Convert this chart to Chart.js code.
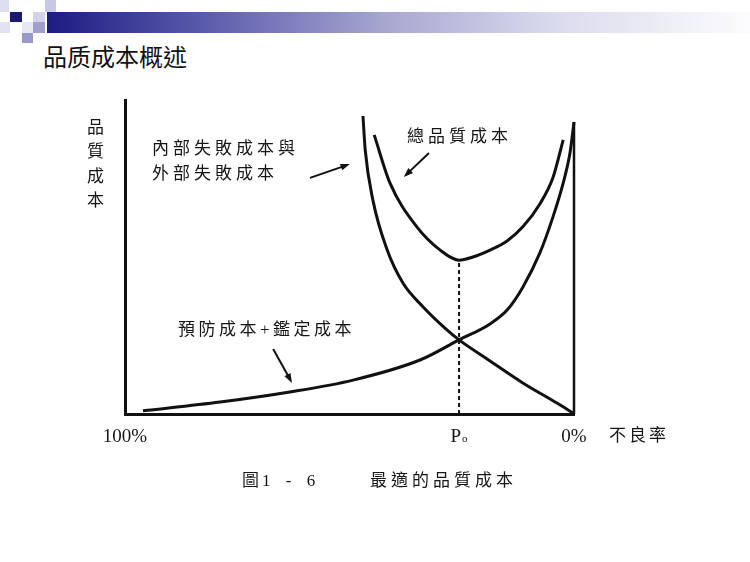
<!DOCTYPE html>
<html lang="zh-Hant">
<head>
<meta charset="UTF-8">
<title>品质成本概述</title>
<script src="https://cdn.jsdelivr.net/npm/chart.js"></script>
<style>
  html, body { margin: 0; padding: 0; background: #fff; }
  body {
    width: 750px; height: 562px; position: relative; overflow: hidden;
    font-family: 'Liberation Serif', 'Noto Sans CJK TC', serif;
    color: #161616;
  }
  #chart { position: absolute; left: 0; top: 0; }

  /* slide header decoration */
  .sq { position: absolute; }
  .bar {
    position: absolute; left: 47px; top: 12px; width: 703px; height: 21px;
    background: linear-gradient(90deg, #1c1c82 0%, #5a5aab 22%, #a6a6d1 48%, #dadaed 72%, #fcfcfe 100%);
  }
  .title {
    position: absolute; left: 43px; top: 41px;
    font-family: 'Noto Sans CJK SC', sans-serif; font-size: 24px; line-height: 30px;
    color: #111;
  }

  .lbl { position: absolute; font-size: 17px; line-height: 25px; letter-spacing: 4px; white-space: nowrap; }
  .ylbl { position: absolute; left: 87px; top: 116px; font-size: 17px; line-height: 24.3px; width: 20px; }
  .tick { position: absolute; top: 423px; font-size: 19px; line-height: 25px; transform: translateX(-50%); white-space: nowrap; }
  .tick sub { font-size: 11px; vertical-align: baseline; margin-left: 1px; }
</style>
</head>
<body>
  <div class="sq" style="left:0;top:0;width:9px;height:12px;background:#dedef0"></div>
  <div class="sq" style="left:45px;top:0;width:11px;height:12px;background:#c8c8e4"></div>
  <div class="sq" style="left:10px;top:12px;width:12px;height:10px;background:#1a1a72"></div>
  <div class="sq" style="left:33px;top:12px;width:12px;height:10px;background:#d2d2ea"></div>
  <div class="sq" style="left:0;top:22px;width:10px;height:11px;background:#e2e2f1"></div>
  <div class="sq" style="left:22px;top:22px;width:11px;height:11px;background:#e8e8f4"></div>
  <div class="sq" style="left:33px;top:22px;width:12px;height:11px;background:#a0a0d0"></div>
  <div class="sq" style="left:22px;top:33px;width:11px;height:10px;background:#9898ca"></div>
  <div class="bar"></div>
  <div class="title">品质成本概述</div>

  <canvas id="chart" width="750" height="562"></canvas>

  <div class="ylbl">品<br>質<br>成<br>本</div>
  <div class="lbl" style="left:152px;top:136px">內部失敗成本與<br>外部失敗成本</div>
  <div class="lbl" style="left:407px;top:124px">總品質成本</div>
  <div class="lbl" style="left:178px;top:317px;letter-spacing:3.5px">預防成本+鑑定成本</div>
  <div class="lbl" style="left:609px;top:423px;letter-spacing:3px">不良率</div>
  <div class="lbl" style="left:242px;top:468px;letter-spacing:3px;word-spacing:5px">圖1 - 6</div>
  <div class="lbl" style="left:370px;top:468px">最適的品質成本</div>
  <div id="ticks"></div>

<script>
  // x: 0 = 100% defect rate (left), 100 = 0% (right); y: cost, arbitrary 0-100
  const poX = 74.4;

  // 內部失敗成本與外部失敗成本
  const failureX = [53.0, 53.5, 55.2, 58.4, 61.9, 66.4, 71.7, 74.4, 81.3, 88.6, 96.2, 99.8];
  const failureY = [94.9, 84.1, 68.2, 52.2, 41.7, 34.1, 26.8, 23.6, 16.9, 9.9, 3.5, 0.3];

  // 預防成本+鑑定成本
  const preventX = [4.0, 21.2, 36.7, 50.8, 65.7, 74.4, 81.3, 85.1, 88.6, 92.4, 95.3, 97.6, 99.1, 100];
  const preventY = [1.0, 3.8, 7.0, 10.8, 17.2, 23.6, 28.7, 33.1, 40.4, 51.3, 62.7, 73.6, 83.1, 93.0];

  // 總品質成本
  const totalX = [55.5, 59.0, 65.0, 70.2, 74.4, 77.5, 81.3, 85.1, 88.6, 92.4, 95.3, 97.6];
  const totalY = [88.9, 73.6, 59.6, 52.2, 49.0, 50.0, 52.2, 55.1, 59.6, 66.9, 75.2, 87.3];

  // right edge line at 0%
  const edgeX = [100, 100];
  const edgeY = [93.0, 0];

  // dashed line at optimum
  const optimumY = [0, 49.0];

  // x tick labels
  const tickValues = [0, poX, 100];
  const tickLabels = ['100%', 'P<sub>o</sub>', '0%'];

  // annotation arrows (start -> end, data units)
  const arrowX1 = [41.2, 67.7, 33.0];
  const arrowY1 = [75.2, 83.1, 20.7];
  const arrowX2 = [50.1, 62.1, 37.2];
  const arrowY2 = [79.6, 75.5, 9.9];

  function pts(xs, ys) {
    return xs.map((x, i) => ({ x: x, y: ys[i] }));
  }

  function curve(data, extra) {
    return Object.assign({
      data: data,
      showLine: true,
      borderColor: '#111',
      borderWidth: 3,
      pointRadius: 0,
      cubicInterpolationMode: 'monotone',
      clip: false
    }, extra || {});
  }

  const arrowPlugin = {
    id: 'arrows',
    afterDatasetsDraw(chart) {
      const ctx = chart.ctx;
      const xs = chart.scales.x, ys = chart.scales.y;
      ctx.save();
      ctx.strokeStyle = '#111';
      ctx.fillStyle = '#111';
      ctx.lineWidth = 2;
      for (let i = 0; i < arrowX1.length; i++) {
        const x1 = xs.getPixelForValue(arrowX1[i]), y1 = ys.getPixelForValue(arrowY1[i]);
        const x2 = xs.getPixelForValue(arrowX2[i]), y2 = ys.getPixelForValue(arrowY2[i]);
        const a = Math.atan2(y2 - y1, x2 - x1);
        const head = 10;
        ctx.beginPath();
        ctx.moveTo(x1, y1);
        ctx.lineTo(x2 - Math.cos(a) * head * 0.7, y2 - Math.sin(a) * head * 0.7);
        ctx.stroke();
        ctx.beginPath();
        ctx.moveTo(x2, y2);
        ctx.lineTo(x2 - head * Math.cos(a - 0.35), y2 - head * Math.sin(a - 0.35));
        ctx.lineTo(x2 - head * Math.cos(a + 0.35), y2 - head * Math.sin(a + 0.35));
        ctx.closePath();
        ctx.fill();
      }
      ctx.restore();
    }
  };

  const axisOpts = {
    type: 'linear',
    min: 0,
    max: 100,
    ticks: { display: false },
    grid: { display: false, drawTicks: false },
    border: { display: true, color: '#111', width: 3 }
  };

  const chart = new Chart(document.getElementById('chart'), {
    type: 'scatter',
    data: {
      datasets: [
        curve(pts(failureX, failureY)),
        curve(pts(preventX, preventY)),
        curve(pts(totalX, totalY)),
        curve(pts(edgeX, edgeY), { borderWidth: 2.5, cubicInterpolationMode: 'default', tension: 0 }),
        curve(pts([poX, poX], optimumY), { borderWidth: 2, borderDash: [4, 3], cubicInterpolationMode: 'default', tension: 0 })
      ]
    },
    options: {
      responsive: false,
      animation: false,
      devicePixelRatio: 1,
      layout: { padding: { left: 125, right: 176, top: 100, bottom: 148 } },
      plugins: { legend: { display: false }, tooltip: { enabled: false } },
      scales: {
        x: Object.assign({}, axisOpts, { position: 'bottom' }),
        y: Object.assign({}, axisOpts, { position: 'left' })
      }
    },
    plugins: [arrowPlugin]
  });

  // tick labels placed through the x scale
  const tickBox = document.getElementById('ticks');
  tickValues.forEach((v, i) => {
    const d = document.createElement('div');
    d.className = 'tick';
    d.style.left = chart.scales.x.getPixelForValue(v) + 'px';
    d.innerHTML = tickLabels[i];
    tickBox.appendChild(d);
  });
</script>
</body>
</html>
